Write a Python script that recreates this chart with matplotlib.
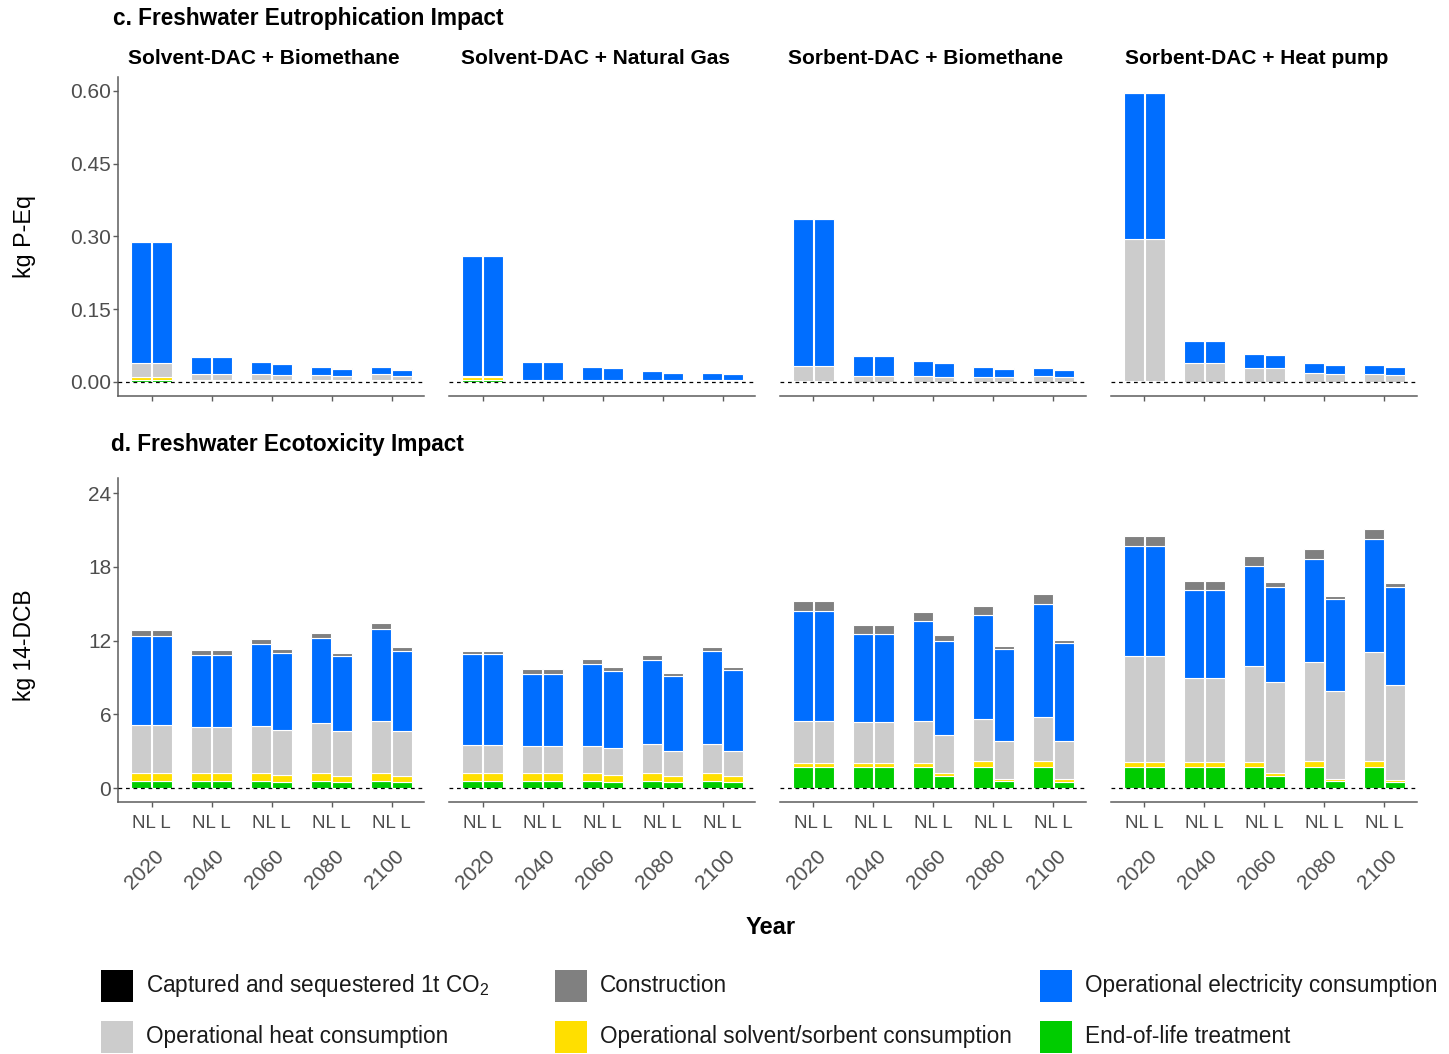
import matplotlib
matplotlib.use("Agg")
import matplotlib.pyplot as plt
from matplotlib.patches import Rectangle

plt.rcParams['font.family'] = ['Liberation Sans', 'DejaVu Sans']
plt.rcParams['mathtext.fontset'] = 'custom'
plt.rcParams['mathtext.rm'] = 'Liberation Sans'
plt.rcParams['mathtext.it'] = 'Liberation Sans:italic'
plt.rcParams['mathtext.bf'] = 'Liberation Sans:bold'

# ---------------------------------------------------------------- data
years = ['2020', '2040', '2060', '2080', '2100']
scenarios = ['NL', 'L']
facets = ['Solvent-DAC + Biomethane', 'Solvent-DAC + Natural Gas',
          'Sorbent-DAC + Biomethane', 'Sorbent-DAC + Heat pump']

legend_labels = ['Captured and sequestered 1t CO$_2$', 'Construction',
                 'Operational electricity consumption',
                 'Operational heat consumption',
                 'Operational solvent/sorbent consumption',
                 'End-of-life treatment']
legend_colors = ['#000000', '#808080', '#006EFF', '#CCCCCC', '#FFDF00', '#00CC00']

# each row: one facet; values ordered 2020 NL, 2020 L, 2040 NL, 2040 L, ...
# Freshwater eutrophication (kg P-Eq)
eut_eol = [
    [0.003, 0.003, 0.002, 0.002, 0.002, 0.002, 0.002, 0.002, 0.002, 0.002],
    [0.003, 0.003, 0.002, 0.002, 0.002, 0.002, 0.002, 0.002, 0.002, 0.002],
    [0.0005, 0.0005, 0.0003, 0.0003, 0.0003, 0.0003, 0.0003, 0.0003, 0.0003, 0.0003],
    [0.0005, 0.0005, 0.0003, 0.0003, 0.0003, 0.0003, 0.0003, 0.0003, 0.0003, 0.0003],
]
eut_solvent = [
    [0.007, 0.007, 0.001, 0.001, 0.001, 0.001, 0.001, 0.001, 0.001, 0.001],
    [0.008, 0.008, 0.001, 0.001, 0.001, 0.001, 0.001, 0.001, 0.001, 0.001],
    [0.0015, 0.0015, 0.0003, 0.0003, 0.0003, 0.0003, 0.0003, 0.0003, 0.0003, 0.0003],
    [0.0015, 0.0015, 0.0003, 0.0003, 0.0003, 0.0003, 0.0003, 0.0003, 0.0003, 0.0003],
]
eut_heat = [
    [0.030, 0.030, 0.013, 0.013, 0.013, 0.011, 0.011, 0.009, 0.013, 0.010],
    [0.001, 0.001, 0.002, 0.002, 0.002, 0.002, 0.002, 0.002, 0.002, 0.002],
    [0.030, 0.030, 0.011, 0.011, 0.011, 0.009, 0.0094, 0.009, 0.011, 0.0094],
    [0.292, 0.292, 0.039, 0.039, 0.029, 0.0274, 0.0174, 0.016, 0.0164, 0.0138],
]
eut_elec = [
    [0.249, 0.249, 0.035, 0.035, 0.025, 0.0235, 0.017, 0.015, 0.014, 0.012],
    [0.248, 0.248, 0.036, 0.036, 0.025, 0.0236, 0.0167, 0.013, 0.0136, 0.012],
    [0.303, 0.303, 0.042, 0.042, 0.0314, 0.030, 0.020, 0.0174, 0.018, 0.014],
    [0.301, 0.301, 0.0456, 0.0456, 0.029, 0.028, 0.0206, 0.0174, 0.018, 0.0156],
]
eut_constr = [
    [0.001, 0.001, 0.001, 0.001, 0.001, 0.001, 0.001, 0.001, 0.001, 0.001],
    [0.001, 0.001, 0.001, 0.001, 0.001, 0.001, 0.001, 0.001, 0.002, 0.001],
    [0.002, 0.002, 0.0014, 0.0014, 0.002, 0.001, 0.002, 0.001, 0.002, 0.001],
    [0.002, 0.002, 0.0015, 0.0015, 0.002, 0.001, 0.002, 0.001, 0.0015, 0.001],
]

# Freshwater ecotoxicity (kg 14-DCB)
eco_eol = [
    [0.62, 0.62, 0.62, 0.62, 0.62, 0.54, 0.62, 0.49, 0.62, 0.49],
    [0.62, 0.62, 0.62, 0.62, 0.62, 0.54, 0.62, 0.49, 0.62, 0.49],
    [1.71, 1.71, 1.71, 1.71, 1.71, 1.00, 1.71, 0.57, 1.71, 0.54],
    [1.71, 1.71, 1.71, 1.71, 1.71, 1.00, 1.71, 0.57, 1.71, 0.50],
]
eco_solvent = [
    [0.60, 0.60, 0.60, 0.60, 0.60, 0.54, 0.60, 0.54, 0.65, 0.54],
    [0.60, 0.60, 0.60, 0.60, 0.60, 0.54, 0.60, 0.54, 0.65, 0.54],
    [0.38, 0.38, 0.38, 0.38, 0.38, 0.25, 0.49, 0.16, 0.49, 0.19],
    [0.45, 0.45, 0.45, 0.45, 0.45, 0.27, 0.49, 0.16, 0.49, 0.19],
]
eco_heat = [
    [3.96, 3.96, 3.74, 3.74, 3.82, 3.64, 4.07, 3.61, 4.24, 3.61],
    [2.33, 2.33, 2.22, 2.22, 2.22, 2.17, 2.36, 2.01, 2.31, 2.01],
    [3.42, 3.42, 3.28, 3.28, 3.36, 3.09, 3.47, 3.09, 3.63, 3.09],
    [8.61, 8.61, 6.84, 6.84, 7.81, 7.35, 8.08, 7.21, 8.87, 7.69],
]
eco_elec = [
    [7.21, 7.21, 5.89, 5.89, 6.68, 6.28, 6.94, 6.13, 7.45, 6.53],
    [7.33, 7.33, 5.86, 5.86, 6.68, 6.30, 6.86, 6.12, 7.54, 6.56],
    [8.89, 8.89, 7.19, 7.19, 8.11, 7.67, 8.41, 7.52, 9.17, 8.03],
    [8.94, 8.94, 7.13, 7.13, 8.14, 7.73, 8.40, 7.44, 9.19, 8.02],
]
eco_constr = [
    [0.47, 0.47, 0.40, 0.40, 0.43, 0.33, 0.37, 0.23, 0.47, 0.28],
    [0.29, 0.29, 0.41, 0.41, 0.43, 0.30, 0.38, 0.25, 0.38, 0.25],
    [0.80, 0.80, 0.73, 0.73, 0.76, 0.46, 0.75, 0.24, 0.81, 0.19],
    [0.77, 0.77, 0.76, 0.76, 0.77, 0.41, 0.77, 0.29, 0.78, 0.25],
]

eut_ticks = [0.00, 0.15, 0.30, 0.45, 0.60]
eco_ticks = [0, 6, 12, 18, 24]

# ---------------------------------------------------------------- layout
W, H = 1449, 1054
fig = plt.figure(figsize=(W / 100, H / 100), dpi=100)

AX_COL = '#5C5C5C'
TXT_COL = '#4D4D4D'
PX_PER_UNIT = 60.0
FACET_LEFT0, FACET_STEP, FACET_W = 118.3, 330.8, 306.0
X_LEFT = -33.4 / PX_PER_UNIT


def add_px_axes(left, top, width, height):
    return fig.add_axes([left / W, 1 - (top + height) / H, width / W, height / H])


stack_colors = ['#00CC00', '#FFDF00', '#CCCCCC', '#006EFF', '#808080']
bar_w = 0.33
dodge = 0.175


def draw_panel(top, height, ylim, ticks, tick_fmt, series, bottom_labels):
    axes = []
    for f in range(4):
        ax = add_px_axes(FACET_LEFT0 + FACET_STEP * f, top, FACET_W, height)
        ax.set_xlim(X_LEFT, X_LEFT + FACET_W / PX_PER_UNIT)
        ax.set_ylim(*ylim)
        ax.axhline(0, color='black', lw=0.9, ls=(0, (3, 3)), zorder=3)
        n = len(years) * len(scenarios)
        xs = [i // 2 + (-dodge if i % 2 == 0 else dodge) for i in range(n)]
        base = [0.0] * n
        for comp, col in zip(series, stack_colors):
            vals = comp[f]
            ax.bar(xs, vals, width=bar_w, bottom=base, color=col,
                   edgecolor='white', linewidth=0.8, zorder=2)
            base = [b + v for b, v in zip(base, vals)]
        for s in ['top', 'right']:
            ax.spines[s].set_visible(False)
        ax.spines['bottom'].set_color(AX_COL)
        ax.spines['bottom'].set_linewidth(1.1)
        ax.set_xticks(range(len(years)))
        ax.tick_params(axis='x', length=3.5, width=1.0, color=AX_COL,
                       labelsize=13.5, labelcolor=TXT_COL, pad=5.5)
        if bottom_labels:
            ax.set_xticklabels([' '.join(scenarios)] * len(years))
            for j, yr in enumerate(years):
                ax.annotate(yr, xy=(j, 0), xycoords=('data', 'axes fraction'),
                            xytext=(-4.8, -48.5), textcoords='offset points',
                            rotation=45, ha='center', va='center',
                            fontsize=15, color=TXT_COL)
        else:
            ax.set_xticklabels([])
        if f == 0:
            ax.spines['left'].set_color(AX_COL)
            ax.spines['left'].set_linewidth(1.1)
            ax.set_yticks(ticks)
            ax.set_yticklabels([tick_fmt.format(t) for t in ticks])
            ax.tick_params(axis='y', length=3.5, width=1.0, color=AX_COL,
                           labelsize=15, labelcolor=TXT_COL, pad=1.5)
        else:
            ax.spines['left'].set_visible(False)
            ax.set_yticks([])
        axes.append(ax)
    return axes


top_axes = draw_panel(77.4, 318.6, (-0.029, 0.628), eut_ticks, '{:.2f}',
                      [eut_eol, eut_solvent, eut_heat, eut_elec, eut_constr],
                      bottom_labels=False)
bot_axes = draw_panel(478.3, 324.0, (-1.14, 25.2), eco_ticks, '{:d}',
                      [eco_eol, eco_solvent, eco_heat, eco_elec, eco_constr],
                      bottom_labels=True)

# facet strip titles
for f, name in enumerate(facets):
    cx = FACET_LEFT0 + FACET_STEP * f + FACET_W / 2 - 7
    fig.text(cx / W, 1 - 58.5 / H, name, ha='center', va='center',
             fontsize=15, fontweight='bold', color='black')

# panel titles
fig.text(113 / W, 1 - 19 / H, 'c. Freshwater Eutrophication Impact',
         ha='left', va='center', fontsize=16.3, fontweight='bold')
fig.text(111 / W, 1 - 445 / H, 'd. Freshwater Ecotoxicity Impact',
         ha='left', va='center', fontsize=16.3, fontweight='bold')

# axis titles
fig.text(25 / W, 1 - 237 / H, 'kg P-Eq', rotation=90, ha='center',
         va='center', fontsize=16.8)
fig.text(25 / W, 1 - 645 / H, 'kg 14-DCB', rotation=90, ha='center',
         va='center', fontsize=16.5)
fig.text(771 / W, 1 - 927.5 / H, 'Year', ha='center', va='center',
         fontsize=17, fontweight='bold')

# legend: two rows of three keys
key_x = [101, 555, 1040]
row_y = [985.5, 1036.5]
KEY = 32
for i, (lab, col) in enumerate(zip(legend_labels, legend_colors)):
    r, c = divmod(i, 3)
    kx, ky = key_x[c], row_y[r]
    fig.patches.append(Rectangle((kx / W, 1 - (ky + KEY / 2) / H), KEY / W, KEY / H,
                                 transform=fig.transFigure, facecolor=col,
                                 edgecolor='none'))
    fig.text((kx + KEY + 13) / W, 1 - ky / H, lab, ha='left', va='center',
             fontsize=16.3, color='#1A1A1A')

fig.savefig('out.png', dpi=100, facecolor='white')
